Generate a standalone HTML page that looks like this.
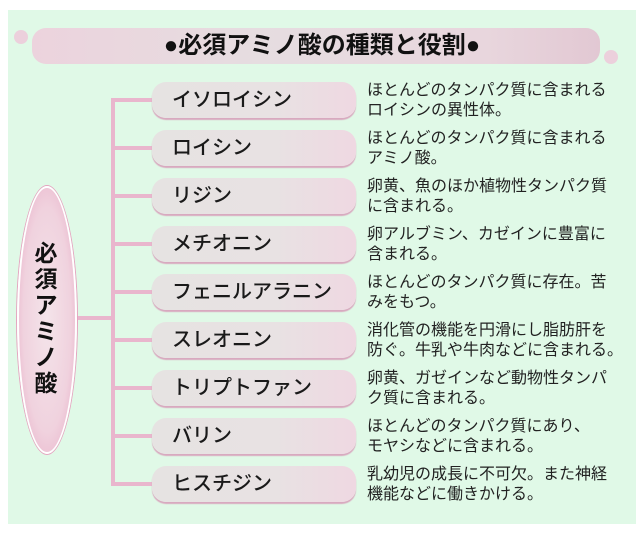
<!DOCTYPE html>
<html><head><meta charset="utf-8"><style>
body{margin:0;width:644px;height:534px;background:#fff;position:relative;overflow:hidden;font-family:"Liberation Sans","Noto Sans CJK JP",sans-serif;}
.panel{position:absolute;left:8px;top:10px;width:628px;height:514px;background:#e0f9e7;}
.banner{position:absolute;left:32px;top:28px;width:568px;height:36px;border-radius:14px;background:linear-gradient(90deg,#ecd3dd,#e6dde0 40%,#e8d6dd 80%,#e2c8d3);}
.dot{position:absolute;border-radius:50%;background:#ecd0dc;}
.title{position:absolute;left:0;width:644px;top:29px;text-align:center;font-size:24px;font-weight:bold;color:#111;line-height:34px;}
.pill{position:absolute;left:152px;width:204px;height:36px;border-radius:14px;background:linear-gradient(90deg,#e6e3e2,#e8e2e3 60%,#efd8e2);box-shadow:0 2px 1px #d8a9bf;font-size:20px;font-weight:500;color:#1a1a1a;line-height:36px;padding-left:20px;box-sizing:border-box;}
.desc{position:absolute;left:367px;font-size:16px;line-height:20px;color:#222;white-space:nowrap;}
.vl{position:absolute;left:111px;top:100px;width:4px;height:386px;background:#e9b6cd;}
.hl{position:absolute;left:111px;width:42px;height:4px;background:#e9b6cd;}
.ell{position:absolute;left:17px;top:186px;width:56px;height:264px;border-radius:50%;background:radial-gradient(ellipse at 50% 50%,#f4e4ea,#f0d2de 60%,#e7a6c2);border:2px solid #fff;box-shadow:0 0 0 1px #e5a4c0;}
.vt{position:absolute;left:29px;top:240px;width:34px;font-size:23px;line-height:26px;text-align:center;color:#111;font-weight:bold;}
</style></head><body>
<div class="panel"></div>
<div class="banner"></div>
<div class="dot" style="left:14px;top:30px;width:14px;height:14px"></div>
<div class="dot" style="left:604px;top:50px;width:14px;height:14px"></div>
<div class="title">●必須アミノ酸の種類と役割●</div>
<div class="vl"></div>
<div class="hl" style="left:72px;width:42px;top:316px"></div>
<div class="hl" style="top:98px"></div>
<div class="hl" style="top:146px"></div>
<div class="hl" style="top:194px"></div>
<div class="hl" style="top:242px"></div>
<div class="hl" style="top:290px"></div>
<div class="hl" style="top:338px"></div>
<div class="hl" style="top:386px"></div>
<div class="hl" style="top:434px"></div>
<div class="hl" style="top:482px"></div>
<div class="ell"></div>
<div class="vt">必<br>須<br>ア<br>ミ<br>ノ<br>酸</div>
<div class="pill" style="top:82px">イソロイシン</div>
<div class="pill" style="top:130px">ロイシン</div>
<div class="pill" style="top:178px">リジン</div>
<div class="pill" style="top:226px">メチオニン</div>
<div class="pill" style="top:274px">フェニルアラニン</div>
<div class="pill" style="top:322px">スレオニン</div>
<div class="pill" style="top:370px">トリプトファン</div>
<div class="pill" style="top:418px">バリン</div>
<div class="pill" style="top:466px">ヒスチジン</div>
<div class="desc" style="top:81px">ほとんどのタンパク質に含まれる<br>ロイシンの異性体。</div>
<div class="desc" style="top:129px">ほとんどのタンパク質に含まれる<br>アミノ酸。</div>
<div class="desc" style="top:177px">卵黄、魚のほか植物性タンパク質<br>に含まれる。</div>
<div class="desc" style="top:225px">卵アルブミン、カゼインに豊富に<br>含まれる。</div>
<div class="desc" style="top:273px">ほとんどのタンパク質に存在。苦<br>みをもつ。</div>
<div class="desc" style="top:321px">消化管の機能を円滑にし脂肪肝を<br>防ぐ。牛乳や牛肉などに含まれる。</div>
<div class="desc" style="top:369px">卵黄、ガゼインなど動物性タンパ<br>ク質に含まれる。</div>
<div class="desc" style="top:417px">ほとんどのタンパク質にあり、<br>モヤシなどに含まれる。</div>
<div class="desc" style="top:465px">乳幼児の成長に不可欠。また神経<br>機能などに働きかける。</div>
</body></html>
